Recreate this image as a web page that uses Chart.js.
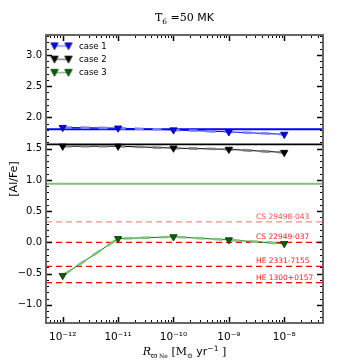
<!DOCTYPE html>
<html>
<head>
<meta charset="utf-8">
<script src="https://cdn.jsdelivr.net/npm/chart.js@4.4.0/dist/chart.umd.min.js"></script>
<style>
  html, body { margin: 0; padding: 0; background: #fff; }
  #wrap { width: 360px; height: 360px; }
</style>
</head>
<body>
<div id="wrap"><canvas id="chart" width="360" height="360"></canvas></div>
<script>
// mass-loss rates (x) and [Al/Fe] for each case
const rates = [1e-12, 1e-11, 1e-10, 1e-9, 1e-8];
const case1 = [1.84, 1.83, 1.80, 1.77, 1.73];
const case2 = [1.54, 1.54, 1.51, 1.49, 1.44];
const case3 = [-0.53, 0.06, 0.09, 0.04, -0.02];
// horizontal reference level of each case
const caseLevels = [1.81, 1.57, 0.94];
// observed stars
const starNames = ['CS 29498-043', 'CS 22949-037', 'HE 2331-7155', 'HE 1300+0157'];
const starValues = [0.33, 0.0, -0.385, -0.645];
const xTicks = [1e-12, 1e-11, 1e-10, 1e-9, 1e-8];
const yTicks = [-1.0, -0.5, 0.0, 0.5, 1.0, 1.5, 2.0, 2.5, 3.0];
const xMin = 5e-13, xMax = 5e-8;
const yMin = -1.29, yMax = 3.32;

const sup = {'-': '\u207b', '0': '\u2070', '1': '\u00b9', '2': '\u00b2', '3': '\u00b3', '4': '\u2074',
             '5': '\u2075', '6': '\u2076', '7': '\u2077', '8': '\u2078', '9': '\u2079'};
function powLabel(v){
    const e = Math.round(Math.log10(v)).toString();
    return '10' + e.split('').map(c => sup[c]).join('');
}

function pts(ys){ return rates.map((r, i) => ({x: r, y: ys[i]})); }
function flat(v){ return [{x: xMin, y: v}, {x: xMax, y: v}]; }

function legendSymbol(lineColor, markColor, edge){
    const c = document.createElement('canvas');
    c.width = 24; c.height = 10;
    const g = c.getContext('2d');
    g.strokeStyle = lineColor; g.lineWidth = 1.5;
    g.beginPath(); g.moveTo(5, 4.5); g.lineTo(19, 4.5); g.stroke();
    [5, 19].forEach(x => {
        g.beginPath();
        g.moveTo(x - 3.7, 1.3); g.lineTo(x + 3.7, 1.3); g.lineTo(x, 8.2); g.closePath();
        g.fillStyle = markColor; g.fill();
        g.strokeStyle = edge; g.lineWidth = 0.8; g.stroke();
    });
    return c;
}

const cases = [
    {label: 'case 1', data: case1, dark: '#0000ff', light: '#8080ff', mark: '#0000ff', edge: '#000080', level: '#0000ff', levelW: 2},
    {label: 'case 2', data: case2, dark: '#000000', light: '#808080', mark: '#000000', edge: '#000000', level: '#000000', levelW: 1.6},
    {label: 'case 3', data: case3, dark: '#008000', light: '#80c080', mark: '#006400', edge: '#003000', level: '#80c080', levelW: 2}
];

const datasets = [];
cases.forEach((c, i) => {
    datasets.push({label: c.label, data: pts(c.data), showLine: false, pointStyle: 'triangle', rotation: 180,
        pointRadius: 4.2, backgroundColor: c.mark, borderColor: c.edge, borderWidth: 0.8, order: 1,
        legendImg: legendSymbol(c.light, c.mark, c.edge)});
    datasets.push({label: '_light' + i, data: pts(c.data), borderColor: c.light, borderWidth: 2.6,
        borderDash: [9, 9], pointRadius: 0, fill: false, order: 2});
    datasets.push({label: '_dark' + i, data: pts(c.data), borderColor: c.dark, borderWidth: 1,
        pointRadius: 0, fill: false, order: 3});
    datasets.push({label: '_level' + i, data: flat(caseLevels[i]), borderColor: c.level, borderWidth: c.levelW,
        pointRadius: 0, fill: false, order: 4});
});
starValues.forEach((v, i) => {
    datasets.push({label: '_star' + i, data: flat(v), borderColor: i === 0 ? '#ff8c8c' : '#ff0000',
        borderWidth: 1.3, borderDash: [6, 4], pointRadius: 0, fill: false, order: 5});
});

const decor = {
    id: 'decor',
    afterDatasetsDraw(chart){
        const ctx = chart.ctx, a = chart.chartArea;
        const xs = chart.scales.x, ys = chart.scales.y;
        ctx.save();
        // star labels
        ctx.font = '7.5px "DejaVu Sans"';
        ctx.textAlign = 'left'; ctx.textBaseline = 'alphabetic';
        starNames.forEach((n, i) => {
            ctx.fillStyle = i === 0 ? '#ff5050' : '#ff2020';
            ctx.fillText(n, 256, ys.getPixelForValue(starValues[i]) - 3);
        });
        // legend (inside plot, top left)
        ctx.font = '8.5px "DejaVu Sans"';
        ctx.textBaseline = 'middle';
        chart.data.datasets.filter(d => d.legendImg).forEach((d, i) => {
            const y = 46.5 + i * 13.3;
            ctx.drawImage(d.legendImg, 61.5 - 12, y - 5);
            ctx.fillStyle = '#000';
            ctx.fillText(d.label, 79, y);
        });
        // ticks, pointing inward
        ctx.strokeStyle = '#000'; ctx.lineWidth = 1;
        const tick = (x1, y1, x2, y2) => { ctx.beginPath(); ctx.moveTo(x1, y1); ctx.lineTo(x2, y2); ctx.stroke(); };
        for (let d = -13; d <= -8; d++) {
            for (let m = 1; m <= 9; m++) {
                const v = m * Math.pow(10, d);
                if (v < xMin || v > xMax) continue;
                const px = Math.round(xs.getPixelForValue(v)) + 0.5;
                const len = m === 1 ? 6 : 3;
                ctx.lineWidth = m === 1 ? 1.5 : 1;
                tick(px, a.bottom, px, a.bottom - len);
                tick(px, a.top, px, a.top + len);
            }
        }
        for (let k = -12; k <= 33; k++) {
            const v = k / 10;
            const py = Math.round(ys.getPixelForValue(v)) + 0.5;
            const major = k % 5 === 0;
            const len = major ? 6 : 3;
            ctx.lineWidth = major ? 1.5 : 1;
            tick(a.left, py, a.left + len, py);
            tick(a.right, py, a.right - len, py);
        }
        // frame
        ctx.strokeStyle = '#666'; ctx.lineWidth = 2;
        ctx.strokeRect(a.left, a.top, a.right - a.left, a.bottom - a.top);
        ctx.restore();
    },
    afterDraw(chart){
        const ctx = chart.ctx, a = chart.chartArea;
        const cx = (a.left + a.right) / 2;
        ctx.save();
        ctx.fillStyle = '#000';
        ctx.textBaseline = 'alphabetic';
        // title
        const parts = [
            ['T', '11px "DejaVu Serif"', 0], ['6', '7.5px "DejaVu Serif"', 2.5],
            [' =50', '11px "DejaVu Serif"', 0], [' MK', '11px "DejaVu Sans"', 0]
        ];
        drawParts(ctx, parts, cx, 21);
        // x title
        const xt = [
            ['R', 'italic 11px "DejaVu Serif"', 0], ['\u03d6', '7.5px "DejaVu Serif"', 2.5],
            [' Ne', '6px "DejaVu Serif"', 3], [' [M', '11px "DejaVu Serif"', 0],
            ['\u2299', '7px "DejaVu Serif"', 2.5], [' yr', '11px "DejaVu Sans"', 0],
            ['\u22121', '7.5px "DejaVu Sans"', -4], [' ]', '11px "DejaVu Serif"', 0]
        ];
        drawParts(ctx, xt, cx, 355);
        // y title
        ctx.translate(17, (a.top + a.bottom) / 2);
        ctx.rotate(-Math.PI / 2);
        ctx.font = '11px "DejaVu Sans"';
        ctx.textAlign = 'center';
        ctx.fillText('[Al/Fe]', 0, 0);
        ctx.restore();
    }
};
function drawParts(ctx, parts, cx, base){
    let w = 0;
    parts.forEach(p => { ctx.font = p[1]; w += ctx.measureText(p[0]).width; });
    let x = cx - w / 2;
    ctx.textAlign = 'left';
    parts.forEach(p => { ctx.font = p[1]; ctx.fillText(p[0], x, base + p[2]); x += ctx.measureText(p[0]).width; });
}

new Chart(document.getElementById('chart').getContext('2d'), {
    type: 'line',
    data: {datasets: datasets},
    options: {
        responsive: false,
        animation: false,
        layout: {padding: {top: 35, right: 37, left: 0, bottom: 0}},
        scales: {
            x: {
                type: 'logarithmic', min: xMin, max: xMax,
                grid: {display: false, drawTicks: false},
                border: {display: false},
                afterBuildTicks: s => { s.ticks = xTicks.map(v => ({value: v})); },
                afterFit: s => { s.height = 37; },
                ticks: {color: '#000', padding: 8, maxRotation: 0, autoSkip: false,
                        font: {family: 'DejaVu Sans', size: 10.5}, callback: v => powLabel(v)}
            },
            y: {
                type: 'linear', min: yMin, max: yMax,
                grid: {display: false, drawTicks: false},
                border: {display: false},
                afterBuildTicks: s => { s.ticks = yTicks.map(v => ({value: v})); },
                afterFit: s => { s.width = 46; },
                ticks: {color: '#000', padding: 4, autoSkip: false,
                        font: {family: 'DejaVu Sans', size: 10},
                        callback: v => (v < 0 ? '\u2212' : '') + Math.abs(v).toFixed(1)}
            }
        },
        plugins: {
            tooltip: {enabled: false},
            title: {display: false},
            legend: {display: false}
        }
    },
    plugins: [decor]
});
</script>
</body>
</html>
